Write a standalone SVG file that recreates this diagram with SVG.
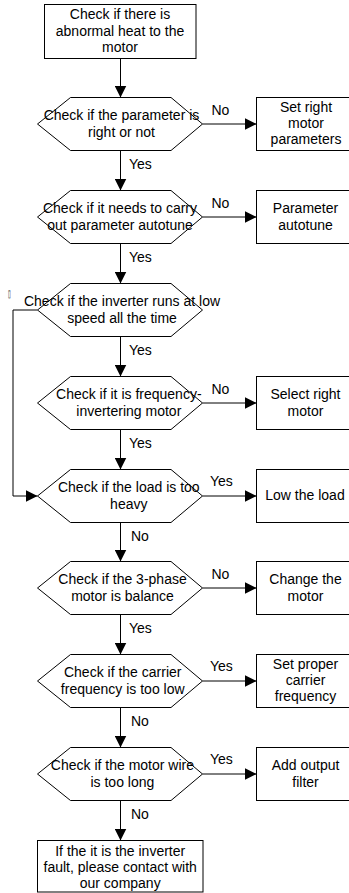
<svg xmlns="http://www.w3.org/2000/svg" width="349" height="893" viewBox="0 0 349 893">
<style>
.n{fill:#fff;stroke:#000;stroke-width:1}
.t{font-family:"Liberation Sans",Arial,sans-serif;font-size:14px;fill:#000;text-anchor:middle}
.l{font-family:"Liberation Sans",Arial,sans-serif;font-size:14px;fill:#000}
.c{fill:none;stroke:#000;stroke-width:1}
</style>
<defs>
<marker id="ah" markerUnits="userSpaceOnUse" markerWidth="12" markerHeight="12" refX="12" refY="6" orient="auto">
<path d="M0,0 L12,6 L0,12 Z" fill="#000"/>
</marker>
</defs>
<rect width="349" height="893" fill="#fff"/>
<g id="connectors">
<path class="c" marker-end="url(#ah)" d="M120.5,58.5 V97.5"/>
<path class="c" marker-end="url(#ah)" d="M120.5,150.5 V190.5"/>
<path class="c" marker-end="url(#ah)" d="M120.5,243.5 V283.5"/>
<path class="c" marker-end="url(#ah)" d="M120.5,336.5 V376.5"/>
<path class="c" marker-end="url(#ah)" d="M120.5,429.5 V469.5"/>
<path class="c" marker-end="url(#ah)" d="M120.5,522.5 V561.5"/>
<path class="c" marker-end="url(#ah)" d="M120.5,614.5 V654.5"/>
<path class="c" marker-end="url(#ah)" d="M120.5,707.5 V747.5"/>
<path class="c" marker-end="url(#ah)" d="M120.5,800.5 V840.5"/>
<path class="c" marker-end="url(#ah)" d="M202.5,124 H256.5"/>
<path class="c" marker-end="url(#ah)" d="M202.5,217 H256.5"/>
<path class="c" marker-end="url(#ah)" d="M202.5,403 H256.5"/>
<path class="c" marker-end="url(#ah)" d="M202.5,496 H256.5"/>
<path class="c" marker-end="url(#ah)" d="M202.5,588 H256.5"/>
<path class="c" marker-end="url(#ah)" d="M202.5,681 H256.5"/>
<path class="c" marker-end="url(#ah)" d="M202.5,774 H256.5"/>
<path class="c" marker-end="url(#ah)" d="M37.5,310 H13 V496 H37.5"/>
<text class="l" x="211.5" y="114.5">No</text>
<text class="l" x="211.5" y="207.5">No</text>
<text class="l" x="211.5" y="393.5">No</text>
<text class="l" x="210" y="485.5">Yes</text>
<text class="l" x="211.5" y="578.5">No</text>
<text class="l" x="210" y="670.5">Yes</text>
<text class="l" x="210" y="763.5">Yes</text>
<text class="l" x="129" y="168.5">Yes</text>
<text class="l" x="129" y="261.5">Yes</text>
<text class="l" x="129" y="354.5">Yes</text>
<text class="l" x="129" y="447.5">Yes</text>
<text class="l" x="131" y="540.5">No</text>
<text class="l" x="129" y="632.5">Yes</text>
<text class="l" x="131" y="725.5">No</text>
<text class="l" x="131" y="818.5">No</text>
</g>
<g id="start">
<rect class="n" x="44.5" y="4.5" width="151.5" height="54"/>
<text class="t" x="120" y="19">Check if there is</text>
<text class="t" x="120" y="35.5">abnormal heat to the</text>
<text class="t" x="120" y="52">motor</text>
</g>
<g id="d1">
<polygon class="n" points="37.5,124 70.5,97.5 171,97.5 202.5,124 171,150.5 70.5,150.5"/>
<text class="t" x="121.5" y="120">Check if the parameter is</text>
<text class="t" x="121.5" y="136.5">right or not</text>
</g>
<g id="b1">
<rect class="n" x="256.5" y="97.5" width="100" height="53"/>
<text class="t" x="306" y="111.5">Set right</text>
<text class="t" x="306" y="127.5">motor</text>
<text class="t" x="306" y="144">parameters</text>
</g>
<g id="d2">
<polygon class="n" points="37.5,217 70.5,190.5 171,190.5 202.5,217 171,243.5 70.5,243.5"/>
<text class="t" x="120" y="213">Check if it needs to carry</text>
<text class="t" x="120" y="229.5">out parameter autotune</text>
</g>
<g id="b2">
<rect class="n" x="256.5" y="190.5" width="100" height="53"/>
<text class="t" x="305.5" y="213">Parameter</text>
<text class="t" x="305.5" y="229.5">autotune</text>
</g>
<g id="d3">
<polygon class="n" points="37.5,310 70.5,283.5 171,283.5 202.5,310 171,336.5 70.5,336.5"/>
<text class="t" x="122" y="306">Check if the inverter runs at low</text>
<text class="t" x="122" y="322.5">speed all the time</text>
</g>
<g id="mark">
<text x="9.5" y="297" font-family="DejaVu Sans,sans-serif" font-size="10" text-anchor="middle" transform="translate(9.5,0) scale(0.5,1) translate(-9.5,0)">▯</text>
</g>
<g id="d4">
<polygon class="n" points="37.5,403 70.5,376.5 171,376.5 202.5,403 171,429.5 70.5,429.5"/>
<text class="t" x="128.8" y="399">Check if it is frequency-</text>
<text class="t" x="128.8" y="415.5">invertering motor</text>
</g>
<g id="b4">
<rect class="n" x="256.5" y="376.5" width="100" height="53"/>
<text class="t" x="305.5" y="399">Select right</text>
<text class="t" x="305.5" y="415.5">motor</text>
</g>
<g id="d5">
<polygon class="n" points="37.5,496 70.5,469.5 171,469.5 202.5,496 171,522.5 70.5,522.5"/>
<text class="t" x="128.8" y="492">Check if the load is too</text>
<text class="t" x="128.8" y="508.5">heavy</text>
</g>
<g id="b5">
<rect class="n" x="256.5" y="469.5" width="100" height="53"/>
<text class="t" x="305" y="499.5">Low the load</text>
</g>
<g id="d6">
<polygon class="n" points="37.5,588 70.5,561.5 171,561.5 202.5,588 171,614.5 70.5,614.5"/>
<text class="t" x="122.5" y="584">Check if the 3-phase</text>
<text class="t" x="122.5" y="600.5">motor is balance</text>
</g>
<g id="b6">
<rect class="n" x="256.5" y="561.5" width="100" height="53"/>
<text class="t" x="305.5" y="584">Change the</text>
<text class="t" x="305.5" y="600.5">motor</text>
</g>
<g id="d7">
<polygon class="n" points="37.5,681 70.5,654.5 171,654.5 202.5,681 171,707.5 70.5,707.5"/>
<text class="t" x="122.7" y="677">Check if the carrier</text>
<text class="t" x="122.7" y="693.5">frequency is too low</text>
</g>
<g id="b7">
<rect class="n" x="256.5" y="654.5" width="100" height="53"/>
<text class="t" x="305.5" y="668.5">Set proper</text>
<text class="t" x="305.5" y="684.5">carrier</text>
<text class="t" x="305.5" y="701">frequency</text>
</g>
<g id="d8">
<polygon class="n" points="37.5,774 70.5,747.5 171,747.5 202.5,774 171,800.5 70.5,800.5"/>
<text class="t" x="122.4" y="770">Check if the motor wire</text>
<text class="t" x="122.4" y="786.5">is too long</text>
</g>
<g id="b8">
<rect class="n" x="256.5" y="747.5" width="100" height="53"/>
<text class="t" x="305.5" y="770">Add output</text>
<text class="t" x="305.5" y="786.5">filter</text>
</g>
<g id="end">
<rect class="n" x="37.5" y="840.5" width="165.5" height="51.5"/>
<text class="t" x="120.2" y="855.5">If the it is the inverter</text>
<text class="t" x="120.2" y="871.5">fault, please contact with</text>
<text class="t" x="120.2" y="887.5">our company</text>
</g>
</svg>
